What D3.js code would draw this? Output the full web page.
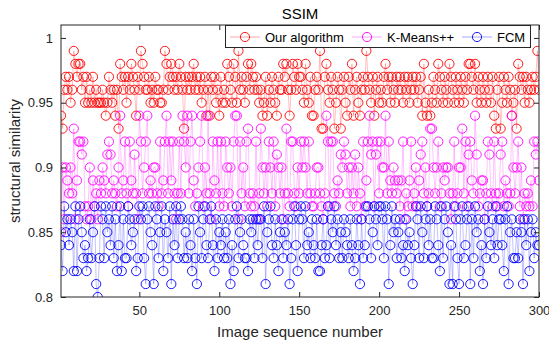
<!DOCTYPE html>
<html>
<head>
<meta charset="utf-8">
<script src="https://cdn.jsdelivr.net/npm/d3@7/dist/d3.min.js"></script>
<style>
  html, body { margin: 0; padding: 0; background: #fff; }
  svg { display: block; font-family: "Liberation Sans", Arial, sans-serif; }
</style>
</head>
<body>
<div id="chart"></div>
<script>
// SSIM per image (1..300)
const seriesNames = ['Our algorithm', 'K-Means++', 'FCM'];
const seriesColors = ['#ff0000', '#ff00ff', '#0000ff'];

const ourAlgorithm = [
  0.94, 0.93, 0.96, 0.97, 0.96, 0.97, 0.95, 0.96, 0.99, 0.98, 0.97, 0.98, 0.98, 0.96, 0.97, 0.95, 0.97, 0.95, 0.96, 0.95, 0.97, 0.95, 0.96, 0.95, 0.95,
  0.95, 0.96, 0.95, 0.94, 0.95, 0.97, 0.96, 0.95, 0.96, 0.94, 0.96, 0.93, 0.98, 0.97, 0.96, 0.97, 0.95, 0.97, 0.96, 0.98, 0.97, 0.96, 0.94, 0.97, 0.96,
  0.99, 0.98, 0.97, 0.96, 0.96, 0.97, 0.95, 0.96, 0.95, 0.97, 0.96, 0.96, 0.95, 0.95, 0.96, 0.99, 0.98, 0.96, 0.97, 0.98, 0.97, 0.96, 0.97, 0.96, 0.98,
  0.97, 0.96, 0.93, 0.97, 0.96, 0.97, 0.96, 0.97, 0.98, 0.96, 0.97, 0.96, 0.97, 0.95, 0.96, 0.97, 0.94, 0.96, 0.94, 0.97, 0.96, 0.97, 0.95, 0.96, 0.94,
  0.97, 0.95, 0.96, 0.95, 0.98, 0.97, 0.96, 0.95, 0.98, 0.97, 0.95, 0.99, 0.96, 0.97, 0.96, 0.95, 0.97, 0.98, 0.96, 0.98, 0.97, 0.96, 0.97, 0.96, 0.95,
  0.96, 0.94, 0.95, 0.97, 0.94, 0.96, 0.95, 0.97, 0.96, 0.95, 0.94, 0.97, 0.96, 0.96, 0.98, 0.97, 0.98, 0.96, 0.94, 0.96, 0.98, 0.97, 0.96, 0.98, 0.97,
  0.97, 0.96, 0.95, 0.98, 0.96, 0.95, 0.97, 0.94, 0.94, 0.96, 0.97, 0.96, 0.99, 0.93, 0.93, 0.97, 0.98, 0.96, 0.95, 0.97, 0.96, 0.93, 0.95, 0.97, 0.96,
  0.93, 0.96, 0.97, 0.95, 0.94, 0.97, 0.96, 0.98, 0.94, 0.96, 0.97, 0.95, 0.94, 0.96, 0.97, 0.96, 0.99, 0.97, 0.96, 0.95, 0.97, 0.94, 0.96, 0.97, 0.95,
  0.96, 0.95, 0.97, 0.98, 0.96, 0.97, 0.95, 0.97, 0.96, 0.95, 0.97, 0.96, 0.97, 0.96, 0.95, 0.97, 0.96, 0.97, 0.95, 0.96, 0.97, 0.96, 0.97, 0.95, 0.96,
  0.97, 0.94, 0.98, 0.95, 0.94, 0.96, 0.94, 0.95, 0.97, 0.96, 0.95, 0.98, 0.97, 0.96, 0.95, 0.97, 0.96, 0.95, 0.98, 0.97, 0.96, 0.95, 0.97, 0.96, 0.95,
  0.97, 0.96, 0.95, 0.97, 0.96, 0.98, 0.98, 0.97, 0.96, 0.98, 0.95, 0.97, 0.96, 0.95, 0.97, 0.96, 0.95, 0.97, 0.96, 0.95, 0.97, 0.94, 0.93, 0.96, 0.97,
  0.93, 0.95, 0.97, 0.96, 0.95, 0.97, 0.96, 0.94, 0.95, 0.96, 0.93, 0.98, 0.97, 0.96, 0.97, 0.95, 0.97, 0.96, 0.95, 0.96, 0.97, 0.96, 0.97, 0.99, 0.96
];

const kMeansPP = [
  0.85, 0.90, 0.86, 0.90, 0.89, 0.88, 0.90, 0.88, 0.93, 0.86, 0.89, 0.92, 0.92, 0.91, 0.92, 0.87, 0.86, 0.87, 0.90, 0.86, 0.89, 0.87, 0.88, 0.86, 0.89,
  0.88, 0.90, 0.89, 0.88, 0.91, 0.92, 0.91, 0.88, 0.89, 0.88, 0.87, 0.90, 0.94, 0.88, 0.89, 0.92, 0.88, 0.87, 0.92, 0.89, 0.88, 0.91, 0.88, 0.86, 0.94,
  0.92, 0.88, 0.90, 0.92, 0.94, 0.88, 0.89, 0.88, 0.90, 0.90, 0.88, 0.87, 0.92, 0.88, 0.89, 0.92, 0.94, 0.88, 0.92, 0.89, 0.92, 0.88, 0.86, 0.88, 0.92,
  0.88, 0.94, 0.92, 0.90, 0.94, 0.88, 0.92, 0.94, 0.89, 0.87, 0.88, 0.90, 0.92, 0.94, 0.87, 0.90, 0.88, 0.94, 0.88, 0.86, 0.92, 0.89, 0.88, 0.92, 0.87,
  0.92, 0.88, 0.87, 0.92, 0.90, 0.88, 0.90, 0.87, 0.92, 0.94, 0.94, 0.86, 0.92, 0.88, 0.90, 0.87, 0.92, 0.93, 0.88, 0.87, 0.88, 0.87, 0.92, 0.86, 0.88,
  0.93, 0.90, 0.88, 0.90, 0.87, 0.92, 0.90, 0.88, 0.92, 0.87, 0.91, 0.90, 0.88, 0.90, 0.86, 0.88, 0.93, 0.88, 0.87, 0.92, 0.92, 0.88, 0.87, 0.90, 0.88,
  0.92, 0.90, 0.92, 0.90, 0.88, 0.92, 0.88, 0.87, 0.87, 0.88, 0.90, 0.90, 0.88, 0.87, 0.86, 0.88, 0.94, 0.92, 0.87, 0.92, 0.92, 0.88, 0.87, 0.89, 0.88,
  0.91, 0.90, 0.92, 0.91, 0.88, 0.90, 0.87, 0.90, 0.88, 0.91, 0.87, 0.90, 0.88, 0.86, 0.92, 0.87, 0.89, 0.92, 0.94, 0.91, 0.92, 0.87, 0.91, 0.92, 0.88,
  0.92, 0.90, 0.90, 0.94, 0.88, 0.92, 0.89, 0.88, 0.90, 0.89, 0.88, 0.89, 0.87, 0.89, 0.92, 0.86, 0.88, 0.87, 0.89, 0.92, 0.87, 0.88, 0.90, 0.87, 0.89,
  0.91, 0.92, 0.88, 0.90, 0.87, 0.88, 0.93, 0.93, 0.90, 0.88, 0.90, 0.92, 0.87, 0.88, 0.90, 0.89, 0.90, 0.90, 0.88, 0.86, 0.88, 0.92, 0.87, 0.88, 0.90,
  0.90, 0.93, 0.88, 0.92, 0.87, 0.91, 0.92, 0.89, 0.88, 0.94, 0.91, 0.87, 0.88, 0.89, 0.89, 0.86, 0.88, 0.92, 0.91, 0.88, 0.87, 0.92, 0.88, 0.87, 0.88,
  0.91, 0.92, 0.87, 0.89, 0.88, 0.87, 0.88, 0.94, 0.90, 0.88, 0.90, 0.92, 0.87, 0.90, 0.86, 0.88, 0.87, 0.88, 0.87, 0.89, 0.87, 0.92, 0.91, 0.92, 0.89
];

const fcm = [
  0.84, 0.82, 0.87, 0.85, 0.86, 0.84, 0.86, 0.85, 0.82, 0.87, 0.82, 0.86, 0.87, 0.85, 0.83, 0.84, 0.82, 0.83, 0.86, 0.83, 0.85, 0.87, 0.81, 0.80, 0.83,
  0.87, 0.86, 0.83, 0.87, 0.85, 0.86, 0.84, 0.87, 0.83, 0.86, 0.82, 0.84, 0.87, 0.82, 0.86, 0.83, 0.83, 0.87, 0.86, 0.84, 0.85, 0.86, 0.82, 0.83, 0.87,
  0.86, 0.87, 0.83, 0.81, 0.86, 0.87, 0.85, 0.84, 0.81, 0.87, 0.86, 0.83, 0.85, 0.87, 0.82, 0.86, 0.85, 0.83, 0.87, 0.81, 0.86, 0.84, 0.87, 0.83, 0.86,
  0.87, 0.86, 0.83, 0.85, 0.83, 0.86, 0.84, 0.82, 0.86, 0.83, 0.81, 0.87, 0.85, 0.83, 0.86, 0.87, 0.84, 0.83, 0.86, 0.87, 0.84, 0.82, 0.86, 0.83, 0.85,
  0.84, 0.86, 0.83, 0.85, 0.83, 0.86, 0.81, 0.84, 0.82, 0.86, 0.87, 0.83, 0.85, 0.86, 0.84, 0.83, 0.83, 0.82, 0.86, 0.85, 0.86, 0.83, 0.86, 0.84, 0.86,
  0.86, 0.83, 0.87, 0.81, 0.85, 0.86, 0.87, 0.84, 0.83, 0.86, 0.84, 0.82, 0.85, 0.86, 0.83, 0.85, 0.84, 0.86, 0.81, 0.83, 0.86, 0.87, 0.84, 0.82, 0.86,
  0.87, 0.86, 0.83, 0.87, 0.84, 0.85, 0.83, 0.86, 0.84, 0.83, 0.86, 0.82, 0.82, 0.84, 0.86, 0.83, 0.84, 0.87, 0.83, 0.86, 0.85, 0.87, 0.84, 0.86, 0.83,
  0.85, 0.83, 0.86, 0.85, 0.84, 0.83, 0.86, 0.84, 0.82, 0.83, 0.86, 0.84, 0.81, 0.86, 0.83, 0.84, 0.87, 0.87, 0.86, 0.83, 0.85, 0.87, 0.86, 0.84, 0.87,
  0.87, 0.86, 0.83, 0.87, 0.86, 0.81, 0.84, 0.87, 0.85, 0.86, 0.83, 0.85, 0.86, 0.83, 0.84, 0.82, 0.86, 0.84, 0.85, 0.83, 0.81, 0.84, 0.87, 0.86, 0.83,
  0.87, 0.85, 0.83, 0.86, 0.87, 0.84, 0.86, 0.83, 0.83, 0.87, 0.86, 0.84, 0.82, 0.87, 0.83, 0.86, 0.87, 0.85, 0.81, 0.84, 0.81, 0.87, 0.86, 0.83, 0.81,
  0.86, 0.87, 0.83, 0.84, 0.86, 0.87, 0.81, 0.86, 0.83, 0.87, 0.85, 0.86, 0.82, 0.84, 0.81, 0.86, 0.83, 0.87, 0.85, 0.84, 0.86, 0.83, 0.87, 0.84, 0.86,
  0.86, 0.84, 0.82, 0.86, 0.87, 0.81, 0.85, 0.86, 0.83, 0.83, 0.85, 0.83, 0.86, 0.85, 0.81, 0.86, 0.84, 0.86, 0.82, 0.85, 0.86, 0.83, 0.85, 0.84, 0.84
];

const xTicks = [50, 100, 150, 200, 250, 300];
const yTicks = [0.8, 0.85, 0.9, 0.95, 1];

const W = 549, H = 347;
const margin = { top: 25, right: 10, bottom: 50, left: 61 };
const width = W - margin.left - margin.right;
const height = H - margin.top - margin.bottom;

const svg = d3.select('#chart').append('svg')
  .attr('width', W)
  .attr('height', H);

const g = svg.append('g')
  .attr('transform', `translate(${margin.left},${margin.top})`);

const x = d3.scaleLinear().domain([1, 300]).range([0, width]);
const y = d3.scaleLinear().domain([0.8, 1.01]).range([height, 0]);

const allSeries = [ourAlgorithm, kMeansPP, fcm];

g.append('clipPath').attr('id', 'clip')
  .append('rect').attr('width', width).attr('height', height);

const plot = g.append('g').attr('clip-path', 'url(#clip)');

const line = d3.line()
  .x((d, i) => x(i + 1))
  .y(d => y(d));

allSeries.forEach((vals, k) => {
  const s = plot.append('g');
  s.append('path')
    .datum(vals)
    .attr('fill', 'none')
    .attr('stroke', seriesColors[k])
    .attr('stroke-opacity', 0.3)
    .attr('stroke-width', 0.8)
    .attr('d', line);
  s.selectAll('circle')
    .data(vals)
    .enter().append('circle')
    .attr('cx', (d, i) => x(i + 1))
    .attr('cy', d => y(d))
    .attr('r', 4.6)
    .attr('fill', 'none')
    .attr('stroke', seriesColors[k])
    .attr('stroke-width', 0.9);
});

// Axes (MATLAB style: ticks inside, box on)
const tickLen = 5;
const axisStyle = sel => {
  sel.select('.domain').remove();
  sel.selectAll('line').attr('stroke', '#262626');
  sel.selectAll('text').attr('fill', '#262626').style('font-size', '13px');
};

g.append('g')
  .attr('transform', `translate(0,${height})`)
  .call(d3.axisBottom(x).tickValues(xTicks).tickSizeInner(-tickLen).tickSizeOuter(0).tickPadding(9))
  .call(axisStyle);

g.append('g')
  .call(d3.axisTop(x).tickValues(xTicks).tickSizeInner(-tickLen).tickSizeOuter(0).tickFormat(''))
  .call(axisStyle);

g.append('g')
  .call(d3.axisLeft(y).tickValues(yTicks).tickSizeInner(-tickLen).tickSizeOuter(0).tickPadding(8).tickFormat(d3.format('')))
  .call(axisStyle);

g.append('g')
  .attr('transform', `translate(${width},0)`)
  .call(d3.axisRight(y).tickValues(yTicks).tickSizeInner(-tickLen).tickSizeOuter(0).tickFormat(''))
  .call(axisStyle);

g.append('rect')
  .attr('width', width)
  .attr('height', height)
  .attr('fill', 'none')
  .attr('stroke', '#262626')
  .attr('stroke-width', 1);

// Labels
svg.append('text')
  .attr('x', margin.left + width / 2)
  .attr('y', 19)
  .attr('text-anchor', 'middle')
  .style('font-size', '15px')
  .attr('fill', '#000')
  .text('SSIM');

svg.append('text')
  .attr('x', margin.left + width / 2)
  .attr('y', 337)
  .attr('text-anchor', 'middle')
  .style('font-size', '15px')
  .attr('fill', '#262626')
  .text('Image sequence number');

svg.append('text')
  .attr('transform', `translate(20,${margin.top + height / 2}) rotate(-90)`)
  .attr('text-anchor', 'middle')
  .style('font-size', '15px')
  .attr('fill', '#262626')
  .text('structural similarity');

// Legend
const legend = svg.append('g');
legend.append('rect')
  .attr('x', 225.5).attr('y', 25.5)
  .attr('width', 305).attr('height', 22)
  .attr('fill', '#fff')
  .attr('stroke', '#262626');

const legendX = [245, 367, 477];
seriesNames.forEach((name, k) => {
  const cx = legendX[k];
  legend.append('line')
    .attr('x1', cx - 15).attr('x2', cx + 15)
    .attr('y1', 37).attr('y2', 37)
    .attr('stroke', seriesColors[k])
    .attr('stroke-opacity', 0.35);
  legend.append('circle')
    .attr('cx', cx).attr('cy', 37).attr('r', 4.6)
    .attr('fill', 'none')
    .attr('stroke', seriesColors[k])
    .attr('stroke-width', 0.9);
  legend.append('text')
    .attr('x', cx + 20).attr('y', 41.5)
    .style('font-size', '13px')
    .attr('fill', '#000')
    .text(name);
});
</script>
</body>
</html>
